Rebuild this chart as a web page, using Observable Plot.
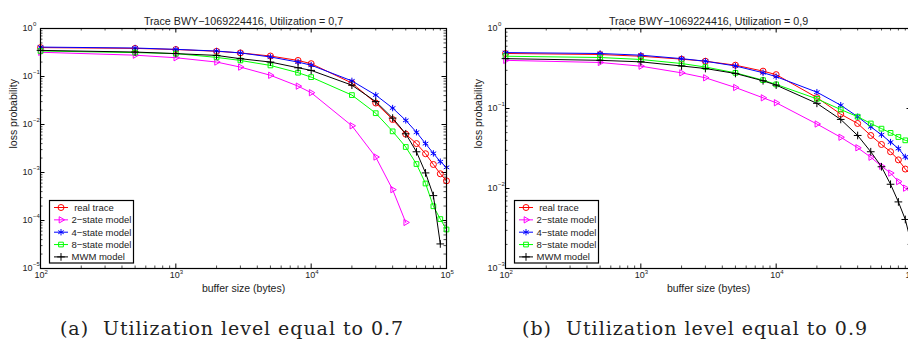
<!DOCTYPE html>
<html><head><meta charset="utf-8">
<script src="https://cdn.jsdelivr.net/npm/d3@7"></script>
<script src="https://cdn.jsdelivr.net/npm/@observablehq/plot@0.6"></script>
<style>
html,body{margin:0;padding:0;background:#fff;}
#fig{position:relative;width:908px;height:340px;overflow:hidden;background:#fff;}
#fig .panel{position:absolute;top:0;width:460px;height:300px;}
#fig .panel svg{max-width:none !important;}
</style></head><body><div id="fig"></div>
<script>
// ---------- data ----------
const bufferSizes = [100, 500, 1000, 2000, 3000, 5000, 8000, 10000, 20000, 30000, 40000, 50000, 60000, 70000, 80000, 90000, 100000];

const seriesNames = [" real trace", "2\u2212state model", "4\u2212state model", "8\u2212state model", "MWM model"];
const seriesColors = ["#ff0000", "#ff00ff", "#0000ff", "#00ff00", "#000000"];

// Utilization 0.7
const realTrace07  = [0.40, 0.385, 0.365, 0.335, 0.31, 0.267, 0.216, 0.185, 0.073, 0.028, 0.0127, 0.0063, 0.0040, 0.00246, 0.00147, 0.00094, 0.00067];
const twoState07   = [0.32, 0.278, 0.246, 0.200, 0.157, 0.106, 0.063, 0.046, 0.0094, 0.0021, 0.00044, 0.000091];
const fourState07  = [0.41, 0.392, 0.368, 0.339, 0.31, 0.255, 0.200, 0.172, 0.081, 0.041, 0.022, 0.0122, 0.0069, 0.0040, 0.0025, 0.00168, 0.00128];
const eightState07 = [0.34, 0.315, 0.300, 0.250, 0.216, 0.170, 0.120, 0.097, 0.041, 0.0172, 0.0072, 0.0034, 0.0015, 0.00059, 0.000198, 0.000107, 0.000065];
const mwm07        = [0.35, 0.323, 0.300, 0.275, 0.235, 0.200, 0.152, 0.134, 0.066, 0.030, 0.0136, 0.0064, 0.0027, 0.00098, 0.00033, 0.0000325];

// Utilization 0.9
const realTrace09  = [0.487, 0.473, 0.450, 0.414, 0.390, 0.348, 0.293, 0.265, 0.137, 0.085, 0.065, 0.046, 0.0355, 0.0288, 0.0228, 0.0175, 0.0145];
const twoState09   = [0.400, 0.376, 0.338, 0.279, 0.242, 0.183, 0.136, 0.118, 0.064, 0.0437, 0.0323, 0.0246, 0.0190, 0.0156, 0.0122, 0.0101, 0.0087];
const fourState09  = [0.500, 0.487, 0.464, 0.420, 0.390, 0.340, 0.280, 0.250, 0.160, 0.110, 0.079, 0.059, 0.047, 0.038, 0.0316, 0.0248, 0.021];
const eightState09 = [0.450, 0.434, 0.410, 0.365, 0.330, 0.279, 0.226, 0.200, 0.132, 0.097, 0.079, 0.065, 0.056, 0.0496, 0.044, 0.040, 0.038];
const mwm09        = [0.420, 0.400, 0.383, 0.340, 0.316, 0.274, 0.222, 0.196, 0.116, 0.073, 0.046, 0.0288, 0.0187, 0.0113, 0.0068, 0.0041, 0.0020];

const titles = ["Trace BWY\u22121069224416, Utilization = 0,7", "Trace BWY\u22121069224416, Utilization = 0,9"];
const captions = ["(a)  Utilization level equal to 0.7", "(b)  Utilization level equal to 0.9"];
const xLabel = "buffer size (bytes)";
const yLabel = "loss probability";
const xMajorTicks = [1e2, 1e3, 1e4, 1e5];
const yMajorTicks07 = [1e-5, 1e-4, 1e-3, 1e-2, 1e-1, 1];
const yMajorTicks09 = [1e-3, 1e-2, 1e-1, 1];

// ---------- styling ----------
const FONT = "'Liberation Sans', Arial, Helvetica, sans-serif";
const plotSymbols = ["circle", "triangle2", "asterisk", "square2", "plus"];
const d3Symbols = [d3.symbolCircle, d3.symbolTriangle2, d3.symbolAsterisk, d3.symbolSquare2, d3.symbolPlus];
const symR = [3, 3, 3, 3, 2.6];
const symRot = [0, 90, 0, 0, 0];
const W = 460, H = 300, mL = 40, mR = 14, mT = 28, mB = 32;
const fW = W - mL - mR, fH = H - mT - mB;

function sup(d) { return String(Math.round(Math.log10(d))).replace("-", "\u2212"); }

function makePanel(seriesValues, yMajor, title) {
  const xMinor = [], yMinor = [];
  xMajorTicks.slice(0, -1).forEach(d => { for (let k = 2; k <= 9; k++) xMinor.push(d * k); });
  yMajor.slice(0, -1).forEach(d => { for (let k = 2; k <= 9; k++) yMinor.push(d * k); });
  const marks = [];
  const tickStyle = (w) => ({stroke: "black", strokeWidth: w});
  // inward ticks on all four sides
  marks.push(Plot.tickX(xMinor, {x: d => d, insetTop: fH - 2.5, ...tickStyle(0.7)}));
  marks.push(Plot.tickX(xMinor, {x: d => d, insetBottom: fH - 2.5, ...tickStyle(0.7)}));
  marks.push(Plot.tickX(xMajorTicks, {x: d => d, insetTop: fH - 4.5, ...tickStyle(1)}));
  marks.push(Plot.tickX(xMajorTicks, {x: d => d, insetBottom: fH - 4.5, ...tickStyle(1)}));
  marks.push(Plot.tickY(yMinor, {y: d => d, insetRight: fW - 2.5, ...tickStyle(0.7)}));
  marks.push(Plot.tickY(yMinor, {y: d => d, insetLeft: fW - 2.5, ...tickStyle(0.7)}));
  marks.push(Plot.tickY(yMajor, {y: d => d, insetRight: fW - 4.5, ...tickStyle(1)}));
  marks.push(Plot.tickY(yMajor, {y: d => d, insetLeft: fW - 4.5, ...tickStyle(1)}));

  seriesValues.forEach((vals, s) => {
    const data = vals.map((v, i) => ({x: bufferSizes[i], y: v}));
    marks.push(Plot.line(data, {x: "x", y: "y", stroke: seriesColors[s], strokeWidth: 1}));
    marks.push(Plot.dot(data, {x: "x", y: "y", stroke: seriesColors[s], fill: "none", symbol: plotSymbols[s], r: symR[s], rotate: symRot[s], strokeWidth: 1}));
  });
  marks.push(Plot.frame({stroke: "black", strokeWidth: 1.2}));

  // tick labels (10 with superscript exponent)
  marks.push(Plot.text(xMajorTicks, {x: d => d, frameAnchor: "bottom", text: () => "10", dy: 9, dx: -1, fontSize: 9, fill: "#222"}));
  marks.push(Plot.text(xMajorTicks, {x: d => d, frameAnchor: "bottom", text: d => sup(d), dy: 5, dx: 4, textAnchor: "start", fontSize: 6, fill: "#222"}));
  marks.push(Plot.text(yMajor, {y: d => d, frameAnchor: "left", text: () => "10", dx: -8, dy: 0, textAnchor: "end", fontSize: 9, fill: "#222"}));
  marks.push(Plot.text(yMajor, {y: d => d, frameAnchor: "left", text: d => sup(d), dx: -7.5, dy: -4, textAnchor: "start", fontSize: 6, fill: "#222"}));

  // title and axis labels
  marks.push(Plot.text([title], {frameAnchor: "top", dy: -11, fontSize: 10.7, fill: "#222"}));
  marks.push(Plot.text([xLabel], {frameAnchor: "bottom", dy: 23, fontSize: 10.5, fill: "#222"}));
  marks.push(Plot.text([yLabel], {frameAnchor: "left", dx: -27, rotate: -90, fontSize: 10.5, fill: "#222"}));

  const svg = Plot.plot({
    width: W, height: H, marginLeft: mL, marginRight: mR, marginTop: mT, marginBottom: mB,
    x: {type: "log", domain: [1e2, 1e5], axis: null},
    y: {type: "log", domain: [yMajor[0], yMajor[yMajor.length - 1]], axis: null},
    style: {fontFamily: FONT, background: "white", overflow: "visible", maxWidth: "none"},
    marks
  });
  addLegend(svg);
  return svg;
}

function addLegend(svg) {
  const g = d3.select(svg).append("g").attr("font-family", FONT).attr("text-anchor", "start");
  const bx = mL + 9.5, by = mT + fH - 67.5, bw = 84, bh = 62.5;
  g.append("rect").attr("x", bx).attr("y", by).attr("width", bw).attr("height", bh)
    .attr("fill", "white").attr("stroke", "black").attr("stroke-width", 1.2);
  seriesNames.forEach((name, i) => {
    const y = by + 7 + i * 12.35;
    g.append("line").attr("x1", bx + 4.5).attr("x2", bx + 18.5).attr("y1", y).attr("y2", y)
      .attr("stroke", seriesColors[i]).attr("stroke-width", 1);
    g.append("path").attr("d", d3.symbol(d3Symbols[i], Math.PI * symR[i] * symR[i])())
      .attr("transform", `translate(${bx + 11.5},${y}) rotate(${symRot[i]})`)
      .attr("fill", "none").attr("stroke", seriesColors[i]).attr("stroke-width", 1);
    g.append("text").attr("x", bx + 22).attr("y", y).attr("dy", "0.35em").attr("text-anchor", "start")
      .attr("font-size", 9.5).attr("fill", "#222").style("white-space", "pre").text(name);
  });
}

const fig = document.getElementById("fig");
const panels = [
  {values: [realTrace07, twoState07, fourState07, eightState07, mwm07], yMajor: yMajorTicks07, left: 0},
  {values: [realTrace09, twoState09, fourState09, eightState09, mwm09], yMajor: yMajorTicks09, left: 465}
];
panels.forEach((p, k) => {
  const div = document.createElement("div");
  div.className = "panel";
  div.style.left = p.left + "px";
  div.appendChild(makePanel(p.values, p.yMajor, titles[k]));
  fig.appendChild(div);
});

// captions
const cap = d3.select(fig).append("svg").attr("width", 908).attr("height", 340)
  .style("position", "absolute").style("left", "0px").style("top", "0px");
const capCenters = [231.5, 694.5], capWidths = [343, 345];
captions.forEach((c, k) => {
  const t = cap.append("text").attr("x", capCenters[k]).attr("y", 335).attr("text-anchor", "middle")
    .attr("font-family", "'DejaVu Serif', 'Liberation Serif', serif").attr("font-size", 19)
    .attr("fill", "#222").style("white-space", "pre").text(c);
  t.attr("textLength", capWidths[k]).attr("lengthAdjust", "spacing");
});
</script></body></html>
